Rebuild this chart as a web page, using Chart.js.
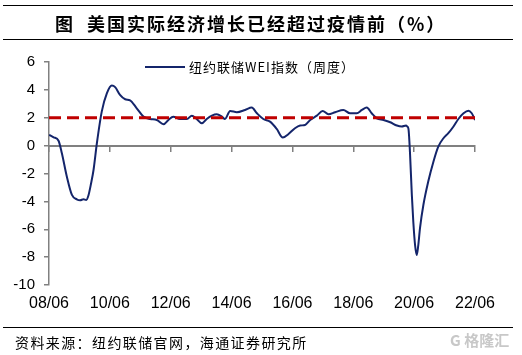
<!DOCTYPE html>
<html><head><meta charset="utf-8">
<script src="https://cdn.jsdelivr.net/npm/chart.js@4/dist/chart.umd.min.js"></script>
<style>
html,body{margin:0;padding:0;background:#fff;}
#wrap{position:relative;width:522px;height:355px;overflow:hidden;background:#fff;font-family:"Noto Sans CJK SC","Liberation Sans",sans-serif;}
#c{position:absolute;left:0;top:0;}
.hl{position:absolute;left:3px;width:510px;height:0;border-top:1.5px solid #000;}
#t1{position:absolute;left:55px;top:10px;font-size:18px;font-weight:bold;line-height:26px;white-space:nowrap;color:#000;}
#t2{position:absolute;left:87px;top:10px;font-size:18px;font-weight:bold;line-height:26px;letter-spacing:2px;white-space:nowrap;color:#000;}
#leg{position:absolute;left:145px;top:58px;height:18px;white-space:nowrap;}
#leg .ln{position:absolute;left:0;top:8px;width:40px;height:2px;background:#14256b;}
#leg .tx{position:absolute;left:44px;top:0;font-size:13px;line-height:18px;letter-spacing:1px;color:#000;}
#src{position:absolute;left:15px;top:332px;font-size:14px;line-height:20px;letter-spacing:1.4px;white-space:nowrap;color:#000;}
#wm{position:absolute;left:450px;top:331px;font-size:15px;line-height:18px;color:#c8c8c8;white-space:nowrap;font-weight:bold;}
</style>
</head><body>
<div id="wrap">
  <canvas id="c" width="522" height="355"></canvas>
  <div class="hl" style="top:5px"></div>
  <div id="t1">图</div>
  <div id="t2">美国实际经济增长已经超过疫情前（%）</div>
  <div class="hl" style="top:39px"></div>
  <div id="leg"><div class="ln"></div><div class="tx">纽约联储WEI指数（周度）</div></div>
  <div class="hl" style="top:327px"></div>
  <div id="src">资料来源：纽约联储官网，海通证券研究所</div>
  <div id="wm">G 格隆汇</div>
</div>
<script>
// ---- data (decimal year, WEI value %) ----
const dates = [
  2008.42,2008.57,2008.73,2008.84,2009.00,2009.17,2009.33,2009.44,2009.55,2009.64,
  2009.71,2009.80,2009.88,2009.99,2010.15,2010.32,2010.48,2010.59,2010.75,2010.92,
  2011.08,2011.30,2011.52,2011.74,2011.96,2012.18,2012.34,2012.50,2012.72,2012.95,
  2013.11,2013.27,2013.44,2013.60,2013.77,2013.93,2014.10,2014.20,2014.37,2014.59,
  2014.86,2015.08,2015.25,2015.46,2015.68,2015.90,2016.10,2016.28,2016.50,2016.67,
  2016.83,2017.00,2017.22,2017.41,2017.60,2017.82,2018.09,2018.31,2018.53,2018.70,
  2018.86,2019.02,2019.19,2019.41,2019.63,2019.85,2020.01,2020.15,2020.19,2020.23,
  2020.28,2020.34,2020.39,2020.45,2020.50,2020.55,2020.61,2020.72,2020.88,2021.05,
  2021.21,2021.38,2021.54,2021.71,2021.87,2022.04,2022.20,2022.31,2022.42
];
const weiValues = [
  0.77,0.60,0.35,-0.55,-2.20,-3.54,-3.85,-3.92,-3.85,-3.90,
  -3.60,-2.70,-1.75,0.17,2.44,3.76,4.31,4.20,3.64,3.33,
  3.25,2.68,2.08,1.91,1.84,1.53,1.84,2.08,1.91,1.91,
  2.15,1.91,1.60,1.91,2.15,2.25,2.08,1.91,2.49,2.40,
  2.56,2.73,2.32,1.91,1.72,1.20,0.58,0.82,1.25,1.44,
  1.48,1.84,2.15,2.49,2.25,2.40,2.56,2.32,2.32,2.56,
  2.73,2.32,1.96,1.84,1.68,1.44,1.37,1.44,1.37,1.20,
  -0.50,-3.50,-5.50,-7.20,-7.85,-7.20,-5.90,-4.26,-2.58,-1.15,
  -0.07,0.53,0.89,1.37,1.91,2.32,2.51,2.32,1.84
];
const benchmark = 2;
const tickLabels = ['08/06','10/06','12/06','14/06','16/06','18/06','20/06','22/06'];
const yTicks = {min:-10, max:6, step:2};

// tick positions from labels (yy/mm -> decimal year)
const tickPos = tickLabels.map(s => { const [yy, mm] = s.split('/').map(Number); return 2000 + yy + (mm - 1) / 12; });
const xMin = tickPos[0], xMax = tickPos[tickPos.length - 1];

const points = dates.map((d, i) => ({x: d, y: weiValues[i]}));
const benchLine = [{x: xMin, y: benchmark}, {x: xMax, y: benchmark}];

const setTicks = scale => { scale.ticks = tickPos.map(v => ({value: v})); };
const labelOf = v => { const i = tickPos.findIndex(p => Math.abs(p - v) < 1e-6); return i >= 0 ? tickLabels[i] : ''; };

new Chart(document.getElementById('c'), {
  type: 'line',
  data: {
    datasets: [
      {data: points, borderColor: '#14256b', borderWidth: 2, pointRadius: 0, tension: 0.4,
       cubicInterpolationMode: 'monotone', fill: false, xAxisID: 'x', order: 2},
      {data: benchLine, borderColor: '#c00000', borderWidth: 3, borderDash: [12, 6],
       pointRadius: 0, fill: false, xAxisID: 'x', order: 1}
    ]
  },
  options: {
    responsive: false, animation: false, devicePixelRatio: 1,
    layout: {padding: {top: 62, right: 47, bottom: 45, left: 0}},
    plugins: {legend: {display: false}, tooltip: {enabled: false}, title: {display: false}},
    scales: {
      x: {
        type: 'linear', axis: 'x', position: {y: 0}, min: xMin, max: xMax,
        afterBuildTicks: setTicks,
        grid: {display: true, drawOnChartArea: false, drawTicks: true, tickLength: 5, color: '#808080', lineWidth: 1.5},
        border: {display: true, color: '#808080', width: 2},
        ticks: {display: false}
      },
      x2: {
        type: 'linear', axis: 'x', position: 'bottom', min: xMin, max: xMax,
        afterBuildTicks: setTicks,
        afterFit: s => { s.height = 25; },
        grid: {display: false, drawTicks: false},
        border: {display: false},
        ticks: {padding: 9, color: '#000', maxRotation: 0, autoSkip: false,
                font: {family: "'Liberation Sans', Arial, sans-serif", size: 16},
                callback: v => labelOf(v)}
      },
      y: {
        type: 'linear', position: 'left', min: yTicks.min, max: yTicks.max,
        afterFit: s => { s.width = 49; },
        grid: {display: true, drawOnChartArea: false, drawTicks: true, tickLength: 5, color: '#808080', lineWidth: 1.5},
        border: {display: true, color: '#808080', width: 1.5},
        ticks: {stepSize: yTicks.step, padding: 9, color: '#000',
                font: {family: "'Liberation Sans', Arial, sans-serif", size: 15}}
      }
    }
  }
});
</script>
</body></html>
